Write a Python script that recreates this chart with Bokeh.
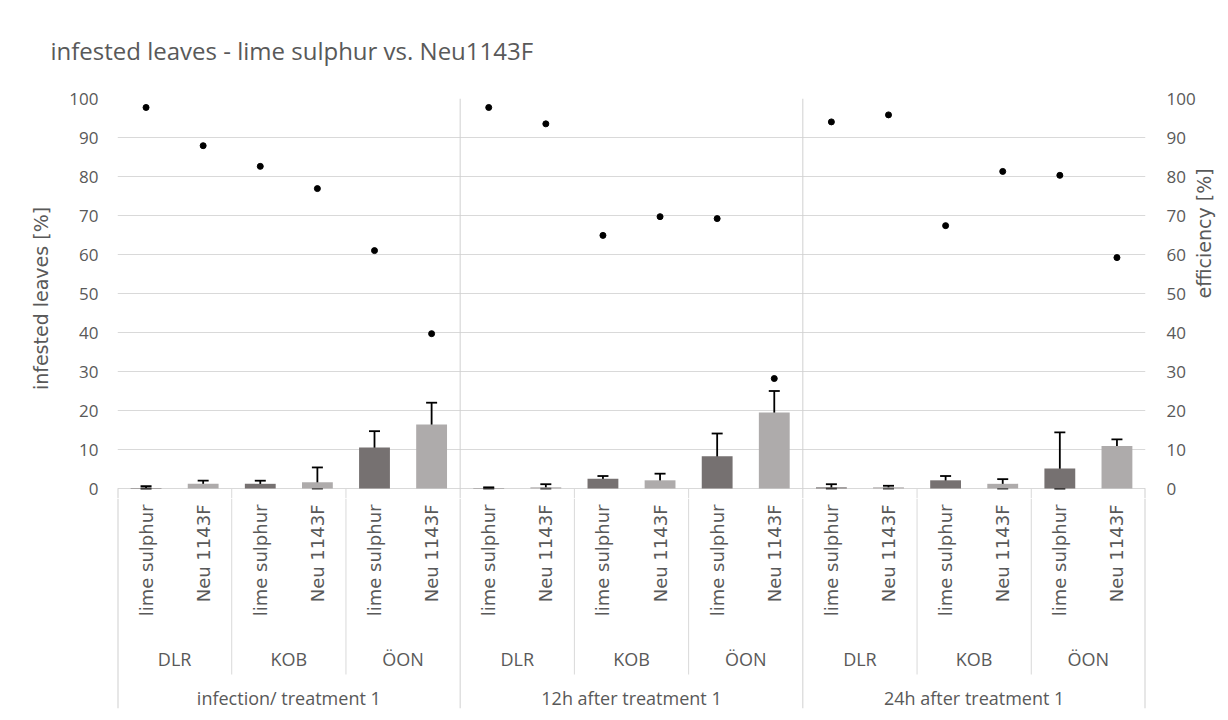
import math
from bokeh.plotting import figure
from bokeh.layouts import column
from bokeh.models import (FactorRange, Range1d, LinearAxis, FixedTicker, ColumnDataSource,
                          Whisker, TeeHead, Title, Grid)
from bokeh.transform import factor_cmap
from bokeh.core.properties import value
from bokeh.embed import file_html
from bokeh.resources import INLINE

# ---------------- data ----------------
times = ["infection/ treatment 1", "12h after treatment 1", "24h after treatment 1"]
locations = ["DLR", "KOB", "ÖON"]
treatments = ["lime sulphur", "Neu 1143F"]

# infested leaves [%] (bars), order: time > location > treatment
infested = [0.1, 1.2, 1.2, 1.6, 10.5, 16.4,
            0.1, 0.3, 2.5, 2.1, 8.3, 19.5,
            0.3, 0.3, 2.1, 1.2, 5.1, 10.9]
# standard deviation (error bars)
infested_sd = [0.5, 0.8, 0.8, 3.8, 4.2, 5.6,
               0.2, 0.8, 0.7, 1.7, 5.8, 5.5,
               0.8, 0.4, 1.1, 1.2, 9.3, 1.7]
# efficiency [%] (dots, right axis)
efficiency = [97.7, 87.9, 82.6, 76.9, 61.0, 39.7,
              97.7, 93.5, 64.9, 69.7, 69.2, 28.2,
              94.0, 95.8, 67.4, 81.3, 80.3, 59.2]

y_ticks = [0, 10, 20, 30, 40, 50, 60, 70, 80, 90, 100]

title_text = "infested leaves - lime sulphur vs. Neu1143F"
left_title = "infested leaves [%]"
right_title = "efficiency [%]"

# ---------------- styles ----------------
TEXT = "#595959"
GRID = "#D9D9D9"
SEP = "#D0D0D0"
DARK = "#767171"
LIGHT = "#AEABAB"
FONT = "Open Sans"
RFONT = "DejaVu Sans"

factors = [(t, l, tr) for t in times for l in locations for tr in treatments]
upper = [v + s for v, s in zip(infested, infested_sd)]
lower = [max(0.0, v - s) for v, s in zip(infested, infested_sd)]

src = ColumnDataSource(dict(x=factors, infested=infested, upper=upper, lower=lower,
                            efficiency=efficiency))

xr = FactorRange(factors=factors, factor_padding=0, subgroup_padding=0,
                 group_padding=0, range_padding=0)

W = 1228
LEFT_B, RIGHT_B = 117, 83
FRAME_TOP = 98
AXIS_Y = 488          # pixel row of value 0
TOP_H = 498           # top figure reaches 10px below the zero line
PX_PER_UNIT = (AXIS_Y - FRAME_TOP) / 100.0
Y0 = -(TOP_H - AXIS_Y) / PX_PER_UNIT

n_tr = len(treatments)
n_grp = len(locations) * n_tr
n_all = len(factors)
inner_sep = [n_grp * i for i in range(1, len(times))]
edges = [0, n_all]
loc_sep = [n_grp * i + n_tr * j for i in range(len(times)) for j in range(1, len(locations))]

# ================= top figure: plot area =================
p = figure(x_range=xr, y_range=Range1d(Y0, 100), width=W, height=TOP_H,
           output_backend="svg", toolbar_location=None, title=None,
           x_axis_location=None, y_axis_location=None,
           min_border_left=LEFT_B, min_border_right=RIGHT_B, min_border_top=FRAME_TOP,
           min_border_bottom=0)
p.outline_line_color = None
p.extra_y_ranges = {"eff": Range1d(Y0, 100)}
p.xgrid.visible = False
p.ygrid.visible = False

p.add_layout(Grid(dimension=1, ticker=FixedTicker(ticks=y_ticks), grid_line_color=GRID,
                  grid_line_width=1))

def make_axis(**kw):
    ax = LinearAxis(ticker=FixedTicker(ticks=y_ticks), **kw)
    ax.axis_line_color = None
    ax.major_tick_line_color = None
    ax.minor_tick_line_color = None
    ax.major_label_text_font = FONT
    ax.major_label_text_font_size = "17px"
    ax.major_label_text_color = TEXT
    ax.axis_label_text_font = RFONT
    ax.axis_label_text_font_size = "19px"
    ax.axis_label_text_font_style = "normal"
    ax.axis_label_text_color = TEXT
    return ax

lax = make_axis(axis_label=left_title)
lax.major_label_standoff = 13
lax.axis_label_standoff = 14
p.add_layout(lax, "left")

rax = make_axis(y_range_name="eff", axis_label=right_title)
rax.major_label_standoff = 15
rax.axis_label_standoff = 5
try:
    rax.axis_label_orientation = math.pi / 2
    rax.axis_label_text_align = "center"
except Exception:
    pass
p.add_layout(rax, "right")

p.add_layout(Title(text=title_text, align="left", offset=-67, standoff=60,
                   vertical_align="top", text_font=FONT, text_font_size="24px",
                   text_font_style="normal", text_color=TEXT), "above")

p.segment(x0=inner_sep, x1=inner_sep, y0=[Y0] * len(inner_sep),
          y1=[100] * len(inner_sep), line_color=SEP, line_width=1)
p.segment(x0=edges, x1=edges, y0=[0, 0], y1=[Y0, Y0], line_color=SEP, line_width=2)
p.segment(x0=loc_sep, x1=loc_sep, y0=[0] * len(loc_sep), y1=[Y0] * len(loc_sep),
          line_color=GRID, line_width=1)

# bars
p.vbar(x="x", top="infested", width=0.54, source=src, line_color=None,
       fill_color=factor_cmap("x", palette=[DARK, LIGHT], factors=treatments, start=2, end=3))

# error bars
wh = Whisker(base="x", upper="upper", lower="lower", source=src,
             line_color="black", line_width=1.8,
             upper_head=TeeHead(size=11, line_color="black", line_width=1.8),
             lower_head=TeeHead(size=11, line_color="black", line_width=1.8))
p.add_layout(wh)

# efficiency dots
p.scatter(x="x", y="efficiency", source=src, y_range_name="eff", size=6,
          fill_color="black", line_color="black")

# ================= bottom figure: multi-level category axis =================
BOT_H = 720 - TOP_H
BOT_FRAME = BOT_H - 12
q = figure(x_range=xr, y_range=Range1d(-BOT_FRAME, 0), width=W, height=BOT_H,
           output_backend="svg", toolbar_location=None, title=None,
           x_axis_location=None, y_axis_location=None,
           min_border_left=LEFT_B, min_border_right=RIGHT_B, min_border_top=0,
           min_border_bottom=12)
q.outline_line_color = None
q.xgrid.visible = False
q.ygrid.visible = False

q.segment(x0=inner_sep, x1=inner_sep, y0=[0] * len(inner_sep), y1=[-BOT_FRAME] * len(inner_sep),
          line_color=SEP, line_width=1)
q.segment(x0=edges, x1=edges, y0=[0, 0], y1=[-BOT_FRAME, -BOT_FRAME], line_color=SEP,
          line_width=2)
q.segment(x0=loc_sep, x1=loc_sep, y0=[0] * len(loc_sep), y1=[-176] * len(loc_sep),
          line_color=GRID, line_width=1)

q.text(x=factors, y=[-6] * n_all, text=[f[2] for f in factors], angle=math.pi / 2,
       text_align="right", text_baseline="middle", text_font=value(RFONT),
       text_font_size="18px", text_color=TEXT)
loc_factors = [(t, l) for t in times for l in locations]
q.text(x=loc_factors, y=[-160] * len(loc_factors), text=[f[1] for f in loc_factors],
       text_align="center", text_baseline="middle", text_font=value(FONT),
       text_font_size="18px", text_color=TEXT)
q.text(x=times, y=[-199] * len(times), text=times,
       text_align="center", text_baseline="middle", text_font=value(FONT),
       text_font_size="18px", text_color=TEXT)

layout = column(p, q, spacing=0)
open("out.html", "w").write(file_html(layout, INLINE))
